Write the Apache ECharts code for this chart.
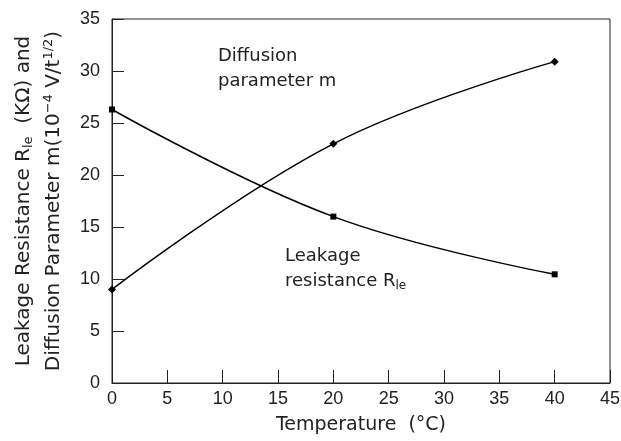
<!DOCTYPE html>
<html><head><meta charset="utf-8">
<script src="https://cdn.jsdelivr.net/npm/echarts@6/dist/echarts.min.js"></script>
<style>html,body{margin:0;padding:0;background:#fff}#c{width:621px;height:441px}</style>
</head><body><div id="c"></div>
<script>
const temperatures = [0, 20, 40];
const diffusionM = [9.0, 23.0, 30.9];
const leakageR = [26.3, 16.0, 10.45];
const xTicks = [0, 5, 10, 15, 20, 25, 30, 35, 40, 45];
const yTicks = [0, 5, 10, 15, 20, 25, 30, 35];

const FONT = 'DejaVu Sans';
const NUM = "'Liberation Sans Narrow', 'Liberation Sans', sans-serif";
const chart = echarts.init(document.getElementById('c'));
const pair = (xs, ys) => xs.map((x, i) => [x, ys[i]]);
chart.setOption({
  animation: false,
  backgroundColor: '#fff',
  grid: {left: 112, right: 11, top: 19, bottom: 58, show: true, borderColor: '#222', borderWidth: 1,
         containLabel: false, outerBoundsMode: 'none'},
  xAxis: {
    type: 'value', min: xTicks[0], max: xTicks[xTicks.length - 1], interval: 5,
    axisLine: {lineStyle: {color: '#222', width: 1}},
    axisTick: {inside: true, length: 13, lineStyle: {color: '#222'}},
    splitLine: {show: false},
    axisLabel: {color: '#222', fontFamily: NUM, fontSize: 18, margin: 7},
    name: 'Temperature  (°C)', nameLocation: 'middle', nameGap: 33,
    nameTextStyle: {color: '#222', fontFamily: FONT, fontSize: 19}
  },
  yAxis: {
    type: 'value', min: yTicks[0], max: yTicks[yTicks.length - 1], interval: 5,
    axisLine: {lineStyle: {color: '#222', width: 1}},
    axisTick: {inside: true, length: 12, lineStyle: {color: '#222'}},
    splitLine: {show: false},
    axisLabel: {color: '#222', fontFamily: NUM, fontSize: 18, margin: 12},
    name: '{t|Leakage Resistance R}{sub|le}{t|  (KΩ) and}\n{t|Diffusion Parameter m(10}{sup|−4}{t| V/t}{sup|1/2}{t|)}',
    nameLocation: 'middle', nameGap: 36, nameRotate: 90,
    nameTextStyle: {
      color: '#222', fontFamily: FONT, fontSize: 20, lineHeight: 30, padding: [0, 0, 0, 0],
      rich: {
        t: {fontFamily: FONT, fontSize: 20, color: '#222', lineHeight: 30},
        sub: {fontFamily: FONT, fontSize: 13, color: '#222', lineHeight: 30, padding: [10, 0, 0, 0]},
        sup: {fontFamily: FONT, fontSize: 13, color: '#222', lineHeight: 30, padding: [0, 0, 10, 0]}
      }
    }
  },
  graphic: [
    {type: 'text', left: 218, top: 44, style: {
      text: 'Diffusion\nparameter m', fontFamily: FONT, fontSize: 18, lineHeight: 25, fill: '#222'}},
    {type: 'text', left: 285, top: 247, style: {
      text: '{t|Leakage}\n{t|resistance R}{sub|le}', fill: '#222',
      rich: {
        t: {fontFamily: FONT, fontSize: 18, lineHeight: 25, fill: '#222'},
        sub: {fontFamily: FONT, fontSize: 12, lineHeight: 25, fill: '#222', padding: [9, 0, 0, 0]}
      }}}
  ],
  series: [
    {name: 'Diffusion parameter m', type: 'line', data: pair(temperatures, diffusionM), smooth: 0.4,
     symbol: 'diamond', symbolSize: 8, itemStyle: {color: '#000'}, lineStyle: {color: '#000', width: 1.5}},
    {name: 'Leakage resistance', type: 'line', data: pair(temperatures, leakageR), smooth: 0.4,
     symbol: 'rect', symbolSize: 6, itemStyle: {color: '#000'}, lineStyle: {color: '#000', width: 1.5}}
  ]
});
</script></body></html>
